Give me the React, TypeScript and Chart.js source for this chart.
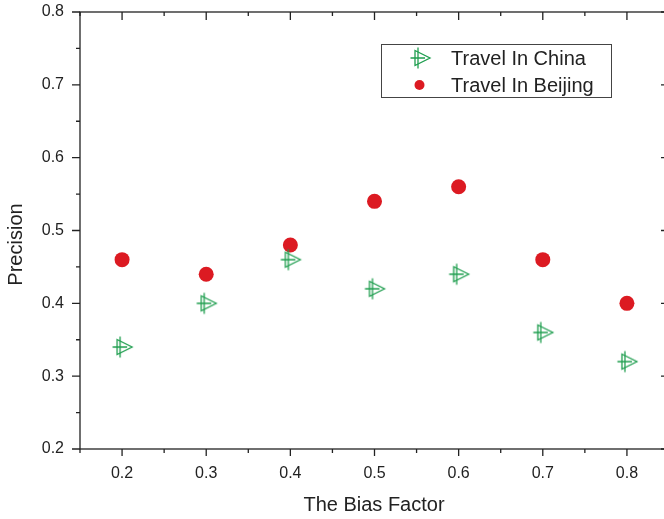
import React, { useEffect, useRef } from "react";
import { Chart, registerables } from "chart.js";

Chart.register(...registerables);

const biasFactor = [0.2, 0.3, 0.4, 0.5, 0.6, 0.7, 0.8];
const chinaPrecision = [0.34, 0.4, 0.46, 0.42, 0.44, 0.36, 0.32];
const beijingPrecision = [0.46, 0.44, 0.48, 0.54, 0.56, 0.46, 0.4];
const xTickValues = [0.2, 0.3, 0.4, 0.5, 0.6, 0.7, 0.8];
const xMinorTicks = [0.15, 0.25, 0.35, 0.45, 0.55, 0.65, 0.75, 0.85];
const yTickValues = [0.2, 0.3, 0.4, 0.5, 0.6, 0.7, 0.8];
const yMinorTicks = [0.25, 0.35, 0.45, 0.55, 0.65, 0.75];
const seriesNames = ["Travel In China", "Travel In Beijing"];
const xTitle = "The Bias Factor";
const yTitle = "Precision";

const GREEN = "#1f9e4f";
const RED = "#dc1a22";
const INK = "#222222";
const FONT = "'Liberation Sans', Arial, Helvetica, sans-serif";

function makeTriMarker(color: string): HTMLCanvasElement {
  const c = document.createElement("canvas");
  c.width = 26;
  c.height = 26;
  const g = c.getContext("2d")!;
  g.strokeStyle = color;
  g.lineWidth = 1.3;
  const cx = 13, cy = 13;
  g.beginPath();
  g.moveTo(cx - 5, cy - 7.5);
  g.lineTo(cx + 10, cy);
  g.lineTo(cx - 5, cy + 7.5);
  g.closePath();
  g.stroke();
  g.beginPath();
  g.moveTo(cx - 2, cy - 10.5);
  g.lineTo(cx - 2, cy + 10.5);
  g.moveTo(cx - 9.5, cy);
  g.lineTo(cx + 5, cy);
  g.stroke();
  return c;
}

export default function App() {
  const ref = useRef<HTMLCanvasElement | null>(null);

  useEffect(() => {
    if (!ref.current) return;
    const tri = makeTriMarker(GREEN);

    const framePlugin = {
      id: "framePlugin",
      afterDraw(chart: any) {
        const ctx = chart.ctx;
        const { left, right, top, bottom } = chart.chartArea;
        const xs = chart.scales.x;
        const ys = chart.scales.y;
        ctx.save();
        ctx.strokeStyle = INK;
        ctx.lineWidth = 1.3;
        ctx.strokeRect(left, top, right - left, bottom - top);
        ctx.beginPath();
        for (const v of xTickValues) {
          const p = xs.getPixelForValue(v);
          ctx.moveTo(p, bottom); ctx.lineTo(p, bottom + 7);
          ctx.moveTo(p, top); ctx.lineTo(p, top + 8);
        }
        for (const v of xMinorTicks) {
          const p = xs.getPixelForValue(v);
          ctx.moveTo(p, bottom); ctx.lineTo(p, bottom + 4);
          ctx.moveTo(p, top); ctx.lineTo(p, top + 4);
        }
        for (const v of yTickValues) {
          const p = ys.getPixelForValue(v);
          ctx.moveTo(left, p); ctx.lineTo(left - 8, p);
          ctx.moveTo(right, p); ctx.lineTo(right - 8, p);
        }
        for (const v of yMinorTicks) {
          const p = ys.getPixelForValue(v);
          ctx.moveTo(left, p); ctx.lineTo(left - 4, p);
          ctx.moveTo(right, p); ctx.lineTo(right - 4, p);
        }
        ctx.stroke();

        // axis titles
        ctx.fillStyle = INK;
        ctx.font = `20px ${FONT}`;
        ctx.textAlign = "center";
        ctx.textBaseline = "middle";
        ctx.fillText(xTitle, (left + 664) / 2 + 2, 505);
        ctx.save();
        ctx.translate(16, (top + bottom) / 2 + 14);
        ctx.rotate(-Math.PI / 2);
        ctx.fillText(yTitle, 0, 0);
        ctx.restore();

        // legend
        const bx = 381, by = 44, bw = 230, bh = 53;
        ctx.fillStyle = "#ffffff";
        ctx.fillRect(bx, by, bw, bh);
        ctx.lineWidth = 1;
        ctx.strokeStyle = "#444444";
        ctx.strokeRect(bx + 0.5, by + 0.5, bw, bh);
        ctx.drawImage(tri, 420 - 13, 58 - 13);
        ctx.fillStyle = RED;
        ctx.beginPath();
        ctx.arc(419.5, 85, 5, 0, Math.PI * 2);
        ctx.fill();
        ctx.fillStyle = INK;
        ctx.textAlign = "left";
        ctx.font = `20px ${FONT}`;
        ctx.fillText(seriesNames[0], 451, 59);
        ctx.fillText(seriesNames[1], 451, 86);
        ctx.restore();
      },
    };

    const chart = new Chart(ref.current, {
      type: "scatter",
      data: {
        datasets: [
          {
            label: seriesNames[0],
            data: biasFactor.map((x, i) => ({ x, y: chinaPrecision[i] })),
            pointStyle: tri as any,
            pointRadius: 10,
            borderColor: GREEN,
            backgroundColor: GREEN,
          },
          {
            label: seriesNames[1],
            data: biasFactor.map((x, i) => ({ x, y: beijingPrecision[i] })),
            pointStyle: "circle",
            pointRadius: 7.5,
            borderWidth: 0,
            borderColor: RED,
            backgroundColor: RED,
          },
        ],
      },
      options: {
        responsive: false,
        animation: false,
        devicePixelRatio: 1,
        layout: { padding: { top: 12, right: 11, left: 0, bottom: 0 } },
        plugins: { legend: { display: false }, tooltip: { enabled: false } },
        scales: {
          x: {
            type: "linear",
            min: 0.15,
            max: 0.85,
            grid: { display: false },
            border: { display: false },
            afterBuildTicks: (s: any) => {
              s.ticks = xTickValues.map((v) => ({ value: v }));
            },
            afterFit: (s: any) => {
              s.height = 519 - 449;
              s.paddingLeft = 0;
              s.paddingRight = 0;
            },
            ticks: {
              padding: 7,
              color: INK,
              font: { family: FONT, size: 16 },
              callback: (v: any) => Number(v).toFixed(1),
            },
          },
          y: {
            type: "linear",
            min: 0.2,
            max: 0.8,
            grid: { display: false },
            border: { display: false },
            afterBuildTicks: (s: any) => {
              s.ticks = yTickValues.map((v) => ({ value: v }));
            },
            afterFit: (s: any) => {
              s.width = 80;
              s.paddingTop = 0;
              s.paddingBottom = 0;
            },
            ticks: {
              padding: 8,
              color: INK,
              font: { family: FONT, size: 16 },
              callback: (v: any) => Number(v).toFixed(1),
            },
          },
        },
      },
      plugins: [framePlugin],
    });
    return () => chart.destroy();
  }, []);

  return (
    <div
      style={{
        position: "absolute",
        left: 0,
        top: 0,
        width: 664,
        height: 519,
        overflow: "hidden",
        background: "#fff",
      }}
    >
      <canvas ref={ref} width={680} height={519} style={{ display: "block" }} />
    </div>
  );
}
